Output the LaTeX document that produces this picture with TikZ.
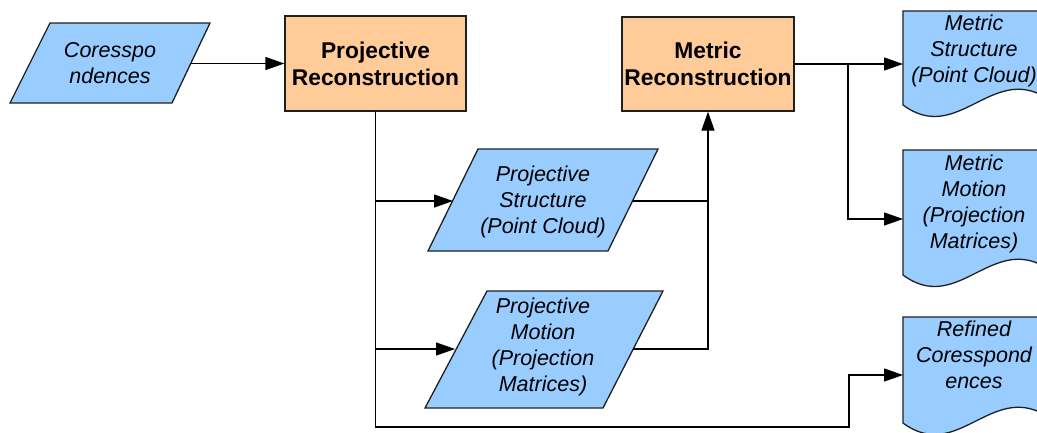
\documentclass[tikz,border=0pt]{standalone}
\usepackage{fontspec}
\setmainfont{Liberation Sans}
\usetikzlibrary{arrows.meta}
\definecolor{bluefill}{HTML}{99CCFF}
\definecolor{orangefill}{HTML}{FFCC99}
\definecolor{edge}{HTML}{202020}
\begin{document}
\begin{tikzpicture}[x=1pt,y=-1pt,
  io/.style={draw=edge, line width=1.3pt, fill=bluefill, line join=miter},
  proc/.style={draw=edge, line width=1.3pt, fill=orangefill, align=center,
    font=\fontsize{22.8}{27}\selectfont\bfseries, inner sep=0pt},
  txt/.style={align=center, font=\fontsize{21.5}{26}\selectfont\itshape, inner sep=0pt},
  conn/.style={line width=1.3pt, draw=black},
  arr/.style={conn, -{Triangle[length=19pt,width=13pt]}},
]
\useasboundingbox (0,0) rectangle (1037,432);
\clip (0,0) rectangle (1037,432);

% input / output parallelograms
\draw[io] (50,23) -- (210,23) -- (172,103) -- (10,103) -- cycle;
\draw[io] (478,149) -- (658,149) -- (608,251) -- (428,251) -- cycle;
\draw[io] (487,291) -- (663,291) -- (603,408) -- (425,408) -- cycle;

% documents
\draw[io] (903,11) -- (1045,11) -- (1045,97) .. controls (991,65) and (957,145) .. (903,105) -- cycle;
\draw[io] (903,150) -- (1045,150) -- (1045,267) .. controls (991,235) and (957,315) .. (903,275) -- cycle;
\draw[io] (903,317) -- (1045,317) -- (1045,415) .. controls (991,383) and (957,463) .. (903,423) -- cycle;

% process boxes
\node[proc, minimum width=181pt, minimum height=95pt] (pr) at (375.5,63.5) {Projective\\Reconstruction};
\node[proc, minimum width=172pt, minimum height=94pt] (mr) at (708,64) {Metric\\Reconstruction};

% texts
\node[txt] (cor) at (110,63) {Coresspo\\ndences};
\node[txt] (ps) at (543,202) {Projective\\Structure\\(Point Cloud)};
\node[txt] (pm) at (543,347) {Projective\\Motion\\(Projection\\Matrices)};
\node[txt] (d1) at (974,51) {Metric\\Structure\\(Point Cloud)};
\node[txt] (d2) at (974,204) {Metric\\Motion\\(Projection\\Matrices)};
\node[txt] (d3) at (974,355) {Refined\\Coresspond\\ences};

% connection points
\coordinate (corE) at (191,63.5);
\coordinate (psW) at (453,201);
\coordinate (psE) at (633,201);
\coordinate (pmW) at (455,349);
\coordinate (pmE) at (633,349);
\coordinate (low) at (375.5,427);
\coordinate (j3) at (849,375);
\coordinate (d1in) at (903,64);
\coordinate (d2in) at (903,219);
\coordinate (d3in) at (903,375);
\coordinate (j1) at (848,64);

% connectors
\draw[arr] (corE) -- (pr.west);
\draw[arr] (pr.south) -- (low) -| (j3) -- (d3in);
\draw[arr] (pr.south |- psW) -- (psW);
\draw[arr] (pr.south |- pmW) -- (pmW);
\draw[conn] (psE) -- (mr.south |- psE);
\draw[arr] (pmE) -| (mr.south);
\draw[arr] (mr.east) -- (d1in);
\draw[arr] (j1) |- (d2in);
\end{tikzpicture}
\end{document}
